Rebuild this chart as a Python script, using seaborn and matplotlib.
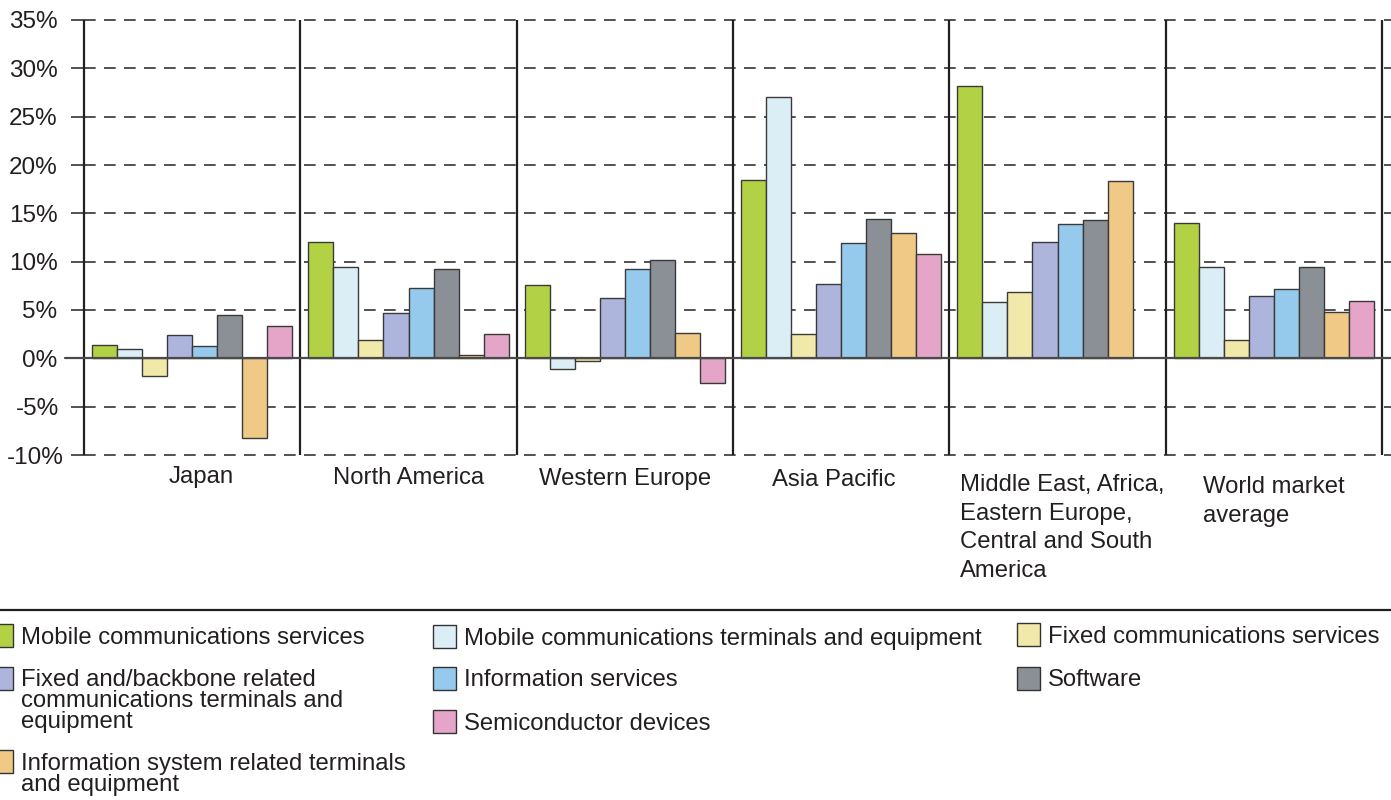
import numpy as np
import pandas as pd
import matplotlib
matplotlib.use("Agg")
import matplotlib.pyplot as plt
import matplotlib.transforms as mtransforms
from matplotlib.patches import Rectangle
from matplotlib.lines import Line2D
import seaborn as sns

# ---- data -------------------------------------------------------------
regions = [
    "Japan",
    "North America",
    "Western Europe",
    "Asia Pacific",
    "Middle East, Africa,\nEastern Europe,\nCentral and South\nAmerica",
    "World market\naverage",
]

series = [
    "Mobile communications services",
    "Mobile communications terminals and equipment",
    "Fixed communications services",
    "Fixed and/backbone related\ncommunications terminals and\nequipment",
    "Information services",
    "Software",
    "Information system related terminals\nand equipment",
    "Semiconductor devices",
]

mobile_services = [1.4, 12.0, 7.6, 18.4, 28.2, 14.0]
mobile_terminals = [1.0, 9.5, -1.1, 27.0, 5.8, 9.5]
fixed_services = [-1.8, 1.9, -0.3, 2.5, 6.9, 1.9]
fixed_backbone = [2.4, 4.7, 6.2, 7.7, 12.0, 6.4]
info_services = [1.25, 7.3, 9.2, 11.9, 13.9, 7.2]
software = [4.5, 9.2, 10.2, 14.4, 14.3, 9.5]
info_system = [-8.25, 0.3, 2.6, 13.0, 18.3, 4.8]
semiconductor = [3.3, 2.5, -2.6, 10.8, np.nan, 5.9]

yticks = [-10, -5, 0, 5, 10, 15, 20, 25, 30, 35]
ytick_labels = ["-10%", "-5%", "0%", "5%", "10%", "15%", "20%", "25%", "30%", "35%"]

colors = ["#b2d145", "#dbeef6", "#f1e9a9", "#adb5dd",
          "#95caec", "#8a9096", "#efc985", "#e5a5c9"]

values = [mobile_services, mobile_terminals, fixed_services, fixed_backbone,
          info_services, software, info_system, semiconductor]

rows = []
for s, vals in zip(series, values):
    for r, v in zip(regions, vals):
        rows.append({"region": r, "series": s, "value": v})
df = pd.DataFrame(rows).dropna()

# ---- figure -----------------------------------------------------------
sns.set_theme(style="white")
plt.rcParams["font.family"] = ["Liberation Sans", "DejaVu Sans"]

W, H = 1391, 800
fig = plt.figure(figsize=(W / 100, H / 100), dpi=100)


def fx(px):
    return px / W


def fy(py):
    return 1 - py / H


TEXT_SIZE = 17.2
TEXT_COLOR = "#231f20"

ax = fig.add_axes([fx(84), fy(455), fx(1391 - 84), (455 - 20) / H])

sns.barplot(data=df, x="region", y="value", hue="series",
            order=regions, hue_order=series, palette=colors,
            width=0.925, saturation=1, errorbar=None,
            edgecolor="#3a3a3a", linewidth=1.0, legend=False,
            zorder=3, ax=ax)

group_px = (1382 - 84) / 6
x_right = -0.5 + (1391 - 84) / group_px
ax.set_xlim(-0.5, x_right)
ax.set_ylim(-10, 35)

for sp in ax.spines.values():
    sp.set_visible(False)

# dashed horizontal guides
for y in yticks:
    if y == 0:
        continue
    ax.axhline(y, ls=(0, (7, 5)), lw=1.2, color="#333333", zorder=1,
               clip_on=False)

# region separators
ax.vlines(np.arange(-0.5, 6, 1), -10, 35, color=TEXT_COLOR, lw=1.6,
          zorder=4, clip_on=False)

# zero baseline, running slightly past the axis on the left
ax.plot([-0.588, x_right], [0, 0], color="#4a4a4a", lw=1.6,
        clip_on=False, zorder=5)

ax.set_yticks(yticks)
ax.set_yticklabels(ytick_labels)
ax.tick_params(axis="y", left=True, length=9.5, width=1.2, color="#333333",
               pad=9.5, labelsize=17.5, labelcolor=TEXT_COLOR, direction="out")
ax.tick_params(axis="x", bottom=False, labelbottom=False)
ax.set_xlabel("")
ax.set_ylabel("")

# negative percentages sit a little further right
for lab in ax.get_yticklabels():
    shift = {"-5%": 2, "-10%": 6}.get(lab.get_text(), 0)
    if shift:
        lab.set_transform(lab.get_transform() +
                          mtransforms.ScaledTranslation(shift / 100, 0,
                                                        fig.dpi_scale_trans))

# region labels below the plot (x in data units, y = top of first line)
label_trans = mtransforms.blended_transform_factory(ax.transData, fig.transFigure)
label_pos = [(0.04, 466.5, "center"), (1.0, 466.5, "center"),
             (2.0, 468.5, "center"), (2.965, 469.5, "center"),
             (3.55, 474.5, "left"), (4.673, 476.5, "left")]
for name, (xp, top, ha) in zip(regions, label_pos):
    ax.text(xp, fy(top), name, transform=label_trans, ha=ha, va="top",
            fontsize=TEXT_SIZE, color=TEXT_COLOR, linespacing=1.38)

# ---- legend ------------------------------------------------------------
fig.add_artist(Line2D([0, 1], [fy(610), fy(610)], transform=fig.transFigure,
                      color=TEXT_COLOR, lw=1.6))

legend_layout = [  # (series index, square left px, square centre px)
    (0, -10, 635), (1, 433, 636), (2, 1017, 634.5),
    (3, -10, 678), (4, 433, 678), (5, 1017, 678),
    (6, -10, 761.5), (7, 433, 721),
]
sq = 23
for idx, left, cy in legend_layout:
    fig.add_artist(Rectangle((fx(left), fy(cy + sq / 2)), sq / W, sq / H,
                             transform=fig.transFigure, facecolor=colors[idx],
                             edgecolor="#333333", lw=1.0))
    fig.text(fx(left + sq + 8), fy(cy - 8.5), series[idx], ha="left",
             va="top", fontsize=TEXT_SIZE, color=TEXT_COLOR, linespacing=0.93)

fig.savefig("out.png", dpi=100)
